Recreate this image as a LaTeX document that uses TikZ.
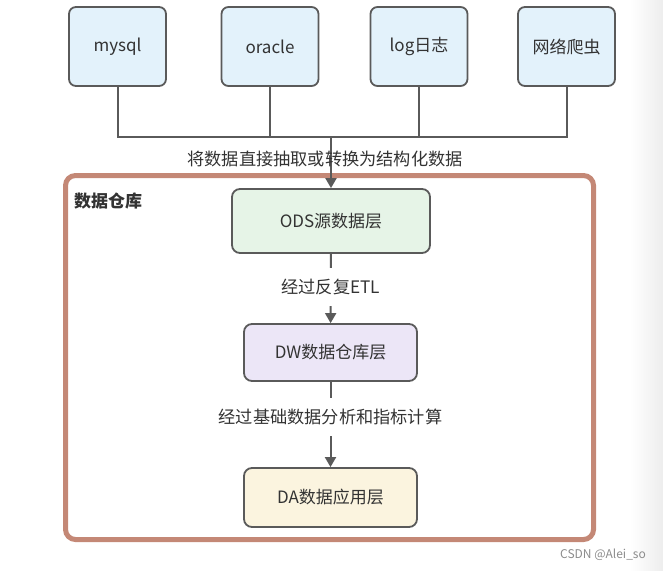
\documentclass[tikz,border=0pt]{standalone}
\usepackage{fontspec}
\setmainfont{Noto Sans CJK SC}
\usetikzlibrary{arrows.meta}

\definecolor{boxline}{HTML}{5A5A5A}
\definecolor{txt}{HTML}{333333}
\definecolor{srcfill}{HTML}{E3F2FB}
\definecolor{odsfill}{HTML}{E6F4E7}
\definecolor{dwfill}{HTML}{ECE6F7}
\definecolor{dafill}{HTML}{FBF4DF}
\definecolor{framecol}{HTML}{C48876}

\begin{document}
\begin{tikzpicture}[x=1pt, y=-1pt,
    src/.style={draw=boxline, line width=1.8pt, rounded corners=7pt, fill=srcfill,
        minimum width=97pt, minimum height=79pt, text=txt, font=\fontsize{17}{19}\selectfont},
    layer/.style={draw=boxline, line width=1.8pt, rounded corners=8pt,
        text=txt, font=\fontsize{17}{19}\selectfont},
    lbl/.style={text=txt, font=\fontsize{17.2}{19}\selectfont},
    wire/.style={draw=boxline, line width=2pt},
    flow/.style={wire, -{Triangle[length=10pt, width=11pt]}}]
    \useasboundingbox (0, 0) rectangle (663, 570);
    \shade [left color=white, right color=black!7] (630, 0) rectangle (663, 570);
    % sources
    \node [src] (mysql) at (117.5, 46.5) {mysql};
    \node [src] (oracle) at (270, 46.5) {oracle};
    \node [src] (log) at (419, 46.5) {log日志};
    \node [src] (spider) at (566.5, 46.5) {网络爬虫};
    \coordinate (hub) at (331, 137);
    \draw [wire] (mysql.south) |- (hub) -| (spider.south);
    \draw [wire] (oracle.south) -- (oracle.south |- hub);
    \draw [wire] (log.south) -- (log.south |- hub);
    % warehouse
    \node [draw=framecol, line width=5pt, rounded corners=10pt,
        minimum width=528pt, minimum height=364pt] (dwh) at (329.5, 357.5) {};
    \node [text=txt, font=\fontsize{17}{19}\selectfont\bfseries] (dwhname) at (108, 201) {数据仓库};
    \node [layer, fill=odsfill, minimum width=198pt, minimum height=64pt] (ods) at (331, 221) {ODS源数据层};
    \node [layer, fill=dwfill, minimum width=173pt, minimum height=57pt] (dw) at (330.5, 352.5) {DW数据仓库层};
    \node [layer, fill=dafill, minimum width=173pt, minimum height=59pt] (da) at (330.5, 497.5) {DA数据应用层};
    \draw [flow] (hub) -- (ods.north);
    \node [lbl] (extract) at (325, 159) {将数据直接抽取或转换为结构化数据};
    \draw [flow] (ods) -- node [lbl, fill=white, inner ysep=11pt, pos=.48] (etl) {经过反复ETL} (dw);
    \draw [flow] (dw) -- node [lbl, fill=white, inner ysep=11pt, pos=.41] (calc) {经过基础数据分析和指标计算} (da);
    \node [text=black!45, font=\fontsize{12}{14}\selectfont] (mark) at (603, 555) {CSDN @Alei\_so};
\end{tikzpicture}
\end{document}
